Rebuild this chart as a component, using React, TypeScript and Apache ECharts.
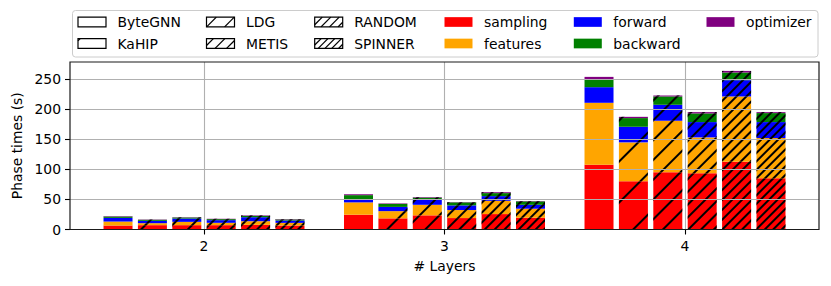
import React, { useEffect, useRef } from 'react';
import * as echarts from 'echarts';

const layers = ['2', '3', '4'];
const partitioners = ['ByteGNN', 'KaHIP', 'LDG', 'METIS', 'RANDOM', 'SPINNER'];
const phases = ['sampling', 'features', 'forward', 'backward', 'optimizer'];
const phaseColors = ['#ff0000', '#ffa500', '#0000ff', '#008000', '#800080'];
// perpendicular spacing of hatch lines for each partitioner (0 = no hatch)
const hatchSpacing = [0, 28, 12.7, 8.1, 6.0, 4.8];

// values per partitioner, for 2, 3, 4 layers (seconds)
const sampling = [
  [6.6, 24.5, 107.6],
  [7.2, 18.5, 80],
  [7.2, 23.5, 94.9],
  [7.2, 19, 93.3],
  [7.7, 25.6, 112.6],
  [6.6, 19.5, 85],
];
const features = [
  [6.6, 20.5, 102.7],
  [3.3, 12, 64.6],
  [5.5, 17.5, 85.6],
  [3.9, 13.3, 59.6],
  [6.1, 22, 108.2],
  [4.4, 15, 66.8],
];
const forward = [
  [6.1, 5.5, 25.9],
  [3.9, 7, 25.9],
  [5.5, 8.4, 26.5],
  [4.4, 7.7, 25.4],
  [6.6, 7.8, 27],
  [3.9, 6.5, 26.5],
];
const backward = [
  [2.2, 6.5, 13.2],
  [1.7, 5, 14.4],
  [1.7, 3.5, 13.8],
  [1.7, 5, 14.3],
  [2.2, 5, 12.7],
  [1.7, 5.7, 14.9],
];
const optimizer = [
  [0.7, 1.5, 3.9],
  [0.5, 0.8, 2.1],
  [0.5, 0.9, 1.6],
  [0.6, 0.5, 2.2],
  [0.8, 1.5, 2.7],
  [0.6, 0.6, 1.6],
];
const phaseData = [sampling, features, forward, backward, optimizer];
const yTicks = [0, 50, 100, 150, 200, 250];
const yMax = 278;

const FONT = 'DejaVu Sans';
const FS = 13.9;

function hatchLines(x0: number, y0: number, w: number, h: number, sv: number) {
  const out: any[] = [];
  if (!sv) return out;
  const cMin = x0 + y0;
  const cMax = x0 + w + y0 + h;
  for (let k = Math.ceil(cMin / sv); k * sv <= cMax; k++) {
    const c = k * sv;
    const xa = Math.max(x0, c - (y0 + h));
    const xb = Math.min(x0 + w, c - y0);
    if (xb - xa < 0.3) continue;
    out.push({
      type: 'line',
      silent: true,
      shape: { x1: xa, y1: c - xa, x2: xb, y2: c - xb },
      style: { stroke: '#000', lineWidth: 1.3 },
    });
  }
  return out;
}

function buildLegend() {
  const items: any[] = [];
  const iconX = [78, 206.5, 314.7, 444.5, 573.8, 706.5];
  const rowY = [22, 43.5];
  const entries: { label: string; kind: 'p' | 'c'; idx: number }[] = [];
  partitioners.forEach((p, i) => entries.push({ label: p, kind: 'p', idx: i }));
  phases.forEach((p, i) => entries.push({ label: p, kind: 'c', idx: i }));
  items.push({
    type: 'rect',
    silent: true,
    shape: { x: 72.5, y: 10.5, width: 745.5, height: 46.5, r: 3 },
    style: { fill: 'rgba(255,255,255,0.8)', stroke: '#cccccc', lineWidth: 1 },
  });
  entries.forEach((e, n) => {
    const col = Math.floor(n / 2);
    const row = n % 2;
    const ix = iconX[col];
    const iy = rowY[row] - 4.85;
    const iw = 28;
    const ih = 9.7;
    if (e.kind === 'p') {
      items.push({
        type: 'rect',
        silent: true,
        shape: { x: ix, y: iy, width: iw, height: ih },
        style: { fill: '#fff', stroke: 'none' },
      });
      items.push(...hatchLines(ix, iy, iw, ih, hatchSpacing[e.idx] * Math.SQRT2));
      items.push({
        type: 'rect',
        silent: true,
        shape: { x: ix, y: iy, width: iw, height: ih },
        style: { fill: 'none', stroke: '#000', lineWidth: 1.2 },
      });
    } else {
      items.push({
        type: 'rect',
        silent: true,
        shape: { x: ix, y: iy, width: iw, height: ih },
        style: { fill: phaseColors[e.idx], stroke: 'none' },
      });
    }
    items.push({
      type: 'text',
      silent: true,
      x: ix + 39.5,
      y: rowY[row],
      style: {
        text: e.label,
        fill: '#000',
        font: `${FS}px "${FONT}"`,
        textVerticalAlign: 'middle',
        verticalAlign: 'middle',
        align: 'left',
      },
    });
  });
  return items;
}

export default function App() {
  const ref = useRef<HTMLDivElement>(null);
  useEffect(() => {
    if (!ref.current) return;
    document.body.style.margin = '0';
    const chart = echarts.init(ref.current, null, { renderer: 'svg' });
    const series: any[] = [];
    partitioners.forEach((p, pi) => {
      phases.forEach((ph, ki) => {
        const sp = hatchSpacing[pi];
        const itemStyle: any = { color: phaseColors[ki] };
        if (sp) {
          itemStyle.decal = {
            symbol: 'rect',
            symbolSize: 1,
            symbolKeepAspect: false,
            color: '#000',
            dashArrayX: [1, 0],
            dashArrayY: [1.3, sp - 1.3],
            rotation: -Math.PI / 4,
          };
        }
        series.push({
          type: 'bar',
          name: `${p} ${ph}`,
          stack: p,
          xAxisIndex: 1,
          yAxisIndex: 1,
          data: phaseData[ki][pi],
          barWidth: 29,
          barGap: '18.6%',
          itemStyle,
          clip: false,
          silent: true,
          z: 2,
        });
      });
    });
    chart.setOption({
      animation: false,
      textStyle: { fontFamily: FONT },
      grid: [
        { left: 70, right: 12, top: 62, bottom: 56.5, show: true, borderColor: '#1a1a1a', borderWidth: 1.2, backgroundColor: 'transparent', z: 5 },
        { left: 204, width: 481, top: 62, bottom: 56.5, show: false },
      ],
      xAxis: [
        {
          type: 'value',
          gridIndex: 0,
          min: 0,
          max: 1,
          show: false,
        },
        {
          type: 'category',
          gridIndex: 1,
          data: layers,
          boundaryGap: false,
          z: 3,
          axisLine: { show: false },
          axisTick: { show: true, length: 5, lineStyle: { color: '#000', width: 1.1 } },
          axisLabel: { show: true, margin: 9, color: '#000', fontSize: FS, fontFamily: FONT },
          splitLine: { show: true, lineStyle: { color: '#b0b0b0', width: 1.1 } },
          name: '# Layers',
          nameLocation: 'middle',
          nameGap: 29,
          nameTextStyle: { color: '#000', fontSize: FS, fontFamily: FONT },
        },
      ],
      yAxis: [
        {
          type: 'value',
          gridIndex: 0,
          min: 0,
          max: yMax,
          interval: 50,
          z: 3,
          axisLine: { show: false },
          axisTick: { show: true, length: 5, customValues: yTicks, lineStyle: { color: '#000', width: 1.1 } },
          axisLabel: { show: true, margin: 9, customValues: yTicks, color: '#000', fontSize: FS, fontFamily: FONT },
          splitLine: { show: true, lineStyle: { color: '#b0b0b0', width: 1.1 } },
          name: 'Phase times (s)',
          nameLocation: 'middle',
          nameGap: 43,
          nameTextStyle: { color: '#000', fontSize: FS, fontFamily: FONT },
        },
        {
          type: 'value',
          gridIndex: 1,
          min: 0,
          max: yMax,
          show: false,
        },
      ],
      series,
      graphic: buildLegend(),
    });
    return () => chart.dispose();
  }, []);
  return <div ref={ref} style={{ width: 831, height: 286 }} />;
}
